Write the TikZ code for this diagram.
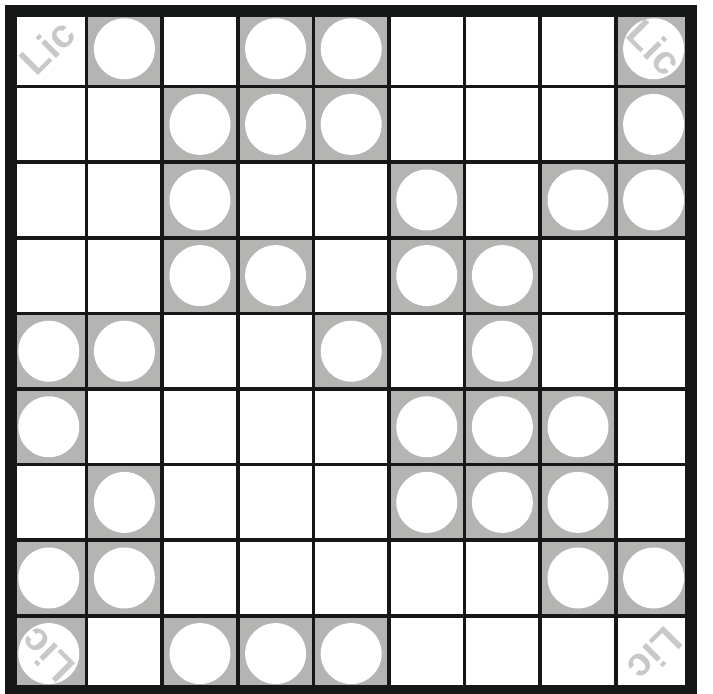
\documentclass[tikz,border=0pt]{standalone}
\usepackage{fontspec}
\setmainfont{Liberation Sans}
\usepackage{xcolor}
\definecolor{gridblack}{RGB}{22,24,23}
\definecolor{stonegray}{RGB}{180,181,179}
\definecolor{markgray}{RGB}{200,200,200}

\begin{document}
\begin{tikzpicture}[
    x=1cm, y=1cm,
    cellfill/.style={fill=stonegray},
    stone/.style={fill=white},
    gridline/.style={draw=gridblack, line width=1.3pt},
    frame/.style={draw=gridblack, line width=4.5pt},
    watermark/.style={text=markgray, font=\fontsize{15}{15}\selectfont\bfseries, inner sep=0pt},
]
    \useasboundingbox (-0.1455,-0.034) rectangle (9.286,9.1455);

    % shaded cells with their white stones, row 1 is the top row
    \foreach \r/\cols in {1/{2,4,5,9}, 2/{3,4,5,9}, 3/{3,6,8,9}, 4/{3,4,6,7},
                          5/{1,2,5,7}, 6/{1,6,7,8}, 7/{2,6,7,8}, 8/{1,2,8,9},
                          9/{1,3,4,5}} {
        \foreach \c in \cols {
            \fill[cellfill] (\c-1,9-\r) rectangle ++(1,1);
            \fill[stone] (\c-0.5,9.5-\r) circle (0.403);
        }
    }

    \node[watermark, rotate=45] (licNW) at (0.48,8.52) {Lic};
    \node[watermark, rotate=-45] (licNE) at (8.52,8.52) {Lic};
    \node[watermark, rotate=135] (licSW) at (0.48,0.48) {Lic};
    \node[watermark, rotate=225] (licSE) at (8.52,0.48) {Lic};

    \foreach \i in {1,...,8} {
        \draw[gridline] (\i,0) -- (\i,9);
        \draw[gridline] (0,\i) -- (9,\i);
    }
    \draw[frame] (0,0) rectangle (9,9);
\end{tikzpicture}
\end{document}
